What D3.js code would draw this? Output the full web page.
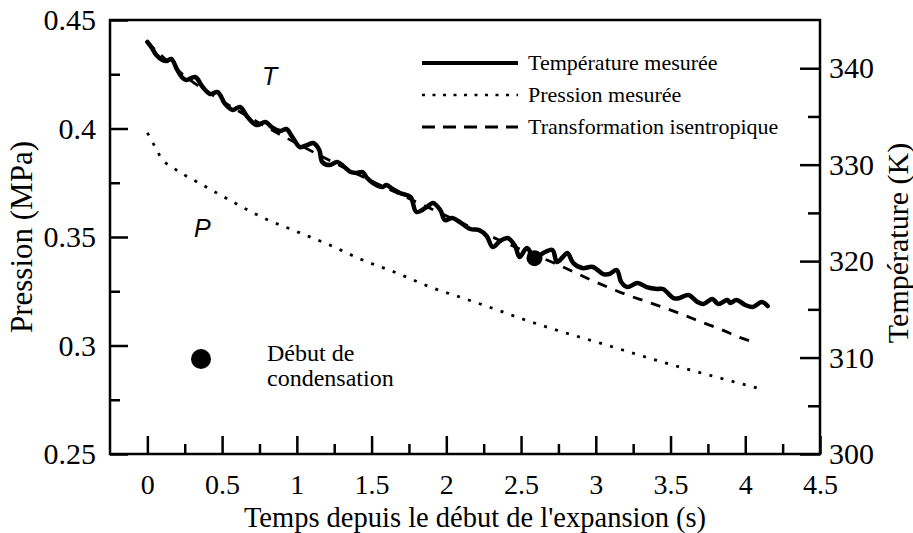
<!DOCTYPE html>
<html><head><meta charset="utf-8">
<script src="https://cdn.jsdelivr.net/npm/d3@7"></script>
<style>
html,body{margin:0;padding:0;background:#fff;}
</style></head>
<body><svg id="chart" width="913" height="533"></svg>
<script>
// ---- data ----
const xTicksMajor = [0, 0.5, 1, 1.5, 2, 2.5, 3, 3.5, 4, 4.5];
const xTickLabels = ["0", "0.5", "1", "1.5", "2", "2.5", "3", "3.5", "4", "4.5"];
const xTicksMinor = [0.25, 0.75, 1.25, 1.75, 2.25, 2.75, 3.25, 3.75, 4.25];
const pTicksMajor = [0.25, 0.3, 0.35, 0.4, 0.45];
const pTickLabels = ["0.25", "0.3", "0.35", "0.4", "0.45"];
const pTicksMinor = [0.275, 0.325, 0.375, 0.425];
const tTicksMajor = [300, 310, 320, 330, 340];
const tTickLabels = ["300", "310", "320", "330", "340"];
const tTicksMinor = [305, 315, 325, 335];

// Température mesurée (K) vs temps (s)
const tempTime = [0.00,0.03,0.06,0.10,0.13,0.16,0.20,0.23,0.26,0.32,0.37,0.42,0.47,0.52,0.57,0.62,0.67,0.73,0.79,0.83,0.89,0.93,0.97,1.02,1.07,1.11,1.15,1.17,1.22,1.27,1.31,1.36,1.40,1.44,1.47,1.51,1.57,1.60,1.64,1.69,1.76,1.80,1.87,1.91,1.96,1.99,2.04,2.09,2.16,2.22,2.27,2.31,2.36,2.41,2.46,2.49,2.54,2.59,2.66,2.71,2.74,2.78,2.81,2.85,2.91,2.98,3.05,3.09,3.14,3.17,3.21,3.28,3.34,3.41,3.45,3.52,3.56,3.62,3.68,3.72,3.78,3.82,3.88,3.90,3.94,4.00,4.05,4.11,4.15];
const tempValue = [342.72,342.10,341.37,340.85,340.75,340.96,339.82,339.09,338.78,339.09,338.05,337.33,337.53,336.29,335.67,335.98,334.94,334.11,334.42,333.91,333.49,333.70,332.87,331.83,332.04,332.25,331.52,330.28,329.96,330.28,329.86,329.24,329.14,329.24,328.62,328.10,327.68,327.89,327.48,327.06,326.65,325.09,325.61,326.03,325.30,324.26,324.47,324.05,323.33,323.23,322.60,321.46,322.08,322.40,321.57,320.43,321.36,320.32,320.94,321.15,319.91,320.43,320.84,319.80,319.28,319.39,318.66,318.66,319.08,317.83,317.31,317.73,317.31,317.11,317.11,316.17,316.17,316.49,315.76,315.55,316.07,315.55,315.97,315.66,315.97,315.45,315.24,315.76,315.34];

// Pression mesurée (MPa)
const presTime = [0.00,0.04,0.07,0.11,0.17,0.25,0.33,0.55,0.77,1.00,1.22,1.44,1.67,1.89,2.11,2.34,2.51,2.78,3.03,3.29,3.56,3.83,4.08];
const presValue = [0.398,0.393,0.389,0.385,0.382,0.3785,0.3755,0.367,0.359,0.3525,0.3463,0.3394,0.3334,0.327,0.3219,0.3164,0.3122,0.3062,0.3011,0.2956,0.2901,0.285,0.2804];

// Transformation isentropique (K)
const isenTime = [0,0.25,0.5,0.75,1.0,1.25,1.5,1.75,2.0,2.25,2.5,2.72,2.85,2.96,3.08,3.21,3.34,3.47,3.59,3.72,3.84,3.96,4.08];
const isenValue = [342.7,339.2,336.6,334.3,332.2,330.2,328.3,326.5,324.7,322.9,321.2,319.8,318.9,318.1,317.3,316.5,315.8,315.1,314.4,313.6,312.9,312.1,311.5];

// Début de condensation
const condTime = [2.59];
const condTemp = [320.3];

const legendLabels = ["Température mesurée", "Pression mesurée", "Transformation isentropique"];

// ---- layout ----
const SERIF = '"Liberation Serif","Times New Roman",serif';
const SANS = '"Liberation Sans",Arial,sans-serif';
const L = 110, R = 820, T = 20, B = 454;
const svg = d3.select("#chart");
const x = d3.scaleLinear().domain([-0.25, 4.5]).range([L, R]);
const yP = d3.scaleLinear().domain([0.25, 0.45]).range([B, T]);
const yT = d3.scaleLinear().domain([300, 345]).range([B, T]);

function styleAxis(size){
  return g => {
    g.select(".domain").remove();
    g.selectAll(".tick line").attr("stroke","#000").attr("stroke-width",2.5);
    g.selectAll(".tick text").attr("fill","#000").style("font-size",size+"px").style("font-family",SERIF);
  };
}

// bottom axis
svg.append("g").attr("transform",`translate(0,${B})`)
  .call(d3.axisBottom(x).tickValues(xTicksMajor).tickSize(-18).tickPadding(20)
    .tickFormat((d,i)=>xTickLabels[i])).call(styleAxis(28));
svg.append("g").attr("transform",`translate(0,${B})`)
  .call(d3.axisBottom(x).tickValues(xTicksMinor).tickSize(-10).tickFormat("")).call(styleAxis(28));

// left axis
svg.append("g").attr("transform",`translate(${L},0)`)
  .call(d3.axisLeft(yP).tickValues(pTicksMajor).tickSize(-18).tickPadding(14)
    .tickFormat((d,i)=>pTickLabels[i])).call(styleAxis(30));
svg.append("g").attr("transform",`translate(${L},0)`)
  .call(d3.axisLeft(yP).tickValues(pTicksMinor).tickSize(-10).tickFormat("")).call(styleAxis(30));

// right axis
svg.append("g").attr("transform",`translate(${R},0)`)
  .call(d3.axisRight(yT).tickValues(tTicksMajor).tickSize(-20).tickPadding(9)
    .tickFormat((d,i)=>tTickLabels[i])).call(styleAxis(30));
svg.append("g").attr("transform",`translate(${R},0)`)
  .call(d3.axisRight(yT).tickValues(tTicksMinor).tickSize(-12).tickFormat("")).call(styleAxis(30));

// frame
svg.append("rect").attr("x",L).attr("y",T).attr("width",R-L).attr("height",B-T)
  .attr("fill","none").attr("stroke","#000").attr("stroke-width",2.5);

function txt(){ return svg.append("text").attr("fill","#000").style("font-family",SERIF); }

// axis titles
txt().attr("transform",`translate(32,${(T+B)/2}) rotate(-90)`)
  .attr("text-anchor","middle").style("font-size","31px").text("Pression (MPa)");
txt().attr("transform",`translate(908,${(T+B)/2+6}) rotate(-90)`)
  .attr("text-anchor","middle").style("font-size","30px").text("Température (K)");
txt().attr("x",(L+R)/2+10).attr("y",527)
  .attr("text-anchor","middle").style("font-size","28.5px").text("Temps depuis le début de l'expansion (s)");

// series
const presData = presTime.map((t,i)=>[t,presValue[i]]);
const isenData = isenTime.map((t,i)=>[t,isenValue[i]]);
const tempData = tempTime.map((t,i)=>[t,tempValue[i]]);

svg.append("path").datum(presData)
  .attr("d", d3.line().x(d=>x(d[0])).y(d=>yP(d[1])).curve(d3.curveMonotoneX))
  .attr("fill","none").attr("stroke","#000").attr("stroke-width",2.8)
  .attr("stroke-dasharray","3,8.5");

svg.append("path").datum(isenData)
  .attr("d", d3.line().x(d=>x(d[0])).y(d=>yT(d[1])).curve(d3.curveMonotoneX))
  .attr("fill","none").attr("stroke","#000").attr("stroke-width",2.8)
  .attr("stroke-dasharray","10,9");

svg.append("path").datum(tempData)
  .attr("d", d3.line().x(d=>x(d[0])).y(d=>yT(d[1])).curve(d3.curveCatmullRom))
  .attr("fill","none").attr("stroke","#000").attr("stroke-width",4.5)
  .attr("stroke-linejoin","round").attr("stroke-linecap","round");

svg.selectAll("circle.cond").data(condTime).enter().append("circle")
  .attr("class","cond").attr("cx",d=>x(d)).attr("cy",(d,i)=>yT(condTemp[i])).attr("r",8).attr("fill","#000");

// curve labels
svg.append("text").attr("x",262).attr("y",85).attr("fill","#000").style("font-size","25px")
  .style("font-style","italic").style("font-family",SANS).text("T");
svg.append("text").attr("x",194).attr("y",237).attr("fill","#000").style("font-size","25px")
  .style("font-style","italic").style("font-family",SANS).text("P");

// condensation annotation
svg.append("circle").attr("cx",201).attr("cy",359).attr("r",10).attr("fill","#000");
txt().attr("x",267).attr("y",361).style("font-size","24px").text("Début de");
txt().attr("x",267).attr("y",386).style("font-size","24px").text("condensation");

// legend
const legY = [63, 95, 127];
const legDash = [null, "3,7.5", "13,8"];
const legW = [4, 2.6, 2.8];
legendLabels.forEach((lab,i)=>{
  const ln = svg.append("line").attr("x1",422).attr("x2",518).attr("y1",legY[i]).attr("y2",legY[i])
    .attr("stroke","#000").attr("stroke-width",legW[i]);
  if(legDash[i]) ln.attr("stroke-dasharray",legDash[i]);
  txt().attr("x",528).attr("y",legY[i]+7).style("font-size","22px").text(lab);
});
</script></body></html>
